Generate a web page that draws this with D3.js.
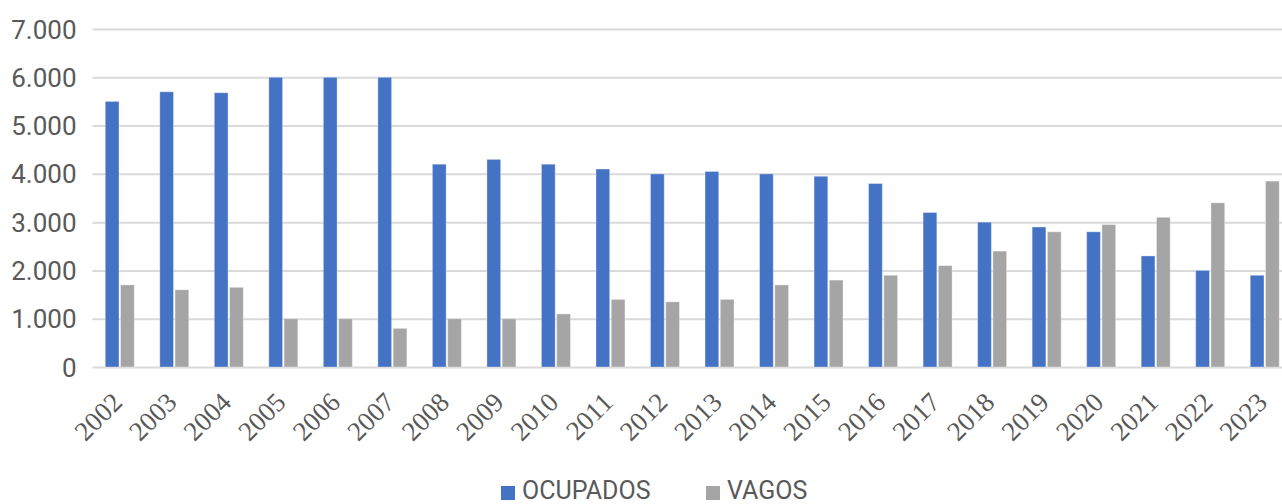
<!DOCTYPE html>
<meta charset="utf-8">
<head>
<title>Ocupados e vagos</title>
<script src="https://cdn.jsdelivr.net/npm/d3@7"></script>
<style>
  body { margin: 0; background: #fff; }
</style>
</head>
<body>
<div id="chart"></div>
<script>
  // data
  var years = ["2002","2003","2004","2005","2006","2007","2008","2009","2010","2011","2012",
               "2013","2014","2015","2016","2017","2018","2019","2020","2021","2022","2023"];
  var ocupados = [5500,5700,5680,6000,6000,6000,4200,4300,4200,4100,4000,
                  4050,4000,3950,3800,3200,3000,2900,2800,2300,2000,1900];
  var vagos = [1700,1600,1650,1000,1000,800,1000,1000,1100,1400,1350,
               1400,1700,1800,1900,2100,2400,2800,2950,3100,3400,3850];
  var seriesNames = ["OCUPADOS", "VAGOS"];
  var seriesColors = ["#4472C4", "#A5A5A5"];
  var yTicks = [0,1000,2000,3000,4000,5000,6000,7000];

  var width = 1282, height = 504;
  // the plot area runs a little past the right edge of the picture
  var margin = {top: 29, right: -10, bottom: 137, left: 92.5};

  var svg = d3.select("#chart").append("svg")
      .attr("width", width)
      .attr("height", height);

  var x = d3.scaleBand()
      .domain(years)
      .range([margin.left, width - margin.right]);

  var groupW = 29;
  var inner = d3.scaleBand()
      .domain(seriesNames)
      .range([0, groupW])
      .paddingInner(0.1);

  var y = d3.scaleLinear()
      .domain([0, 7000])
      .range([height - margin.bottom, margin.top]);

  var fmt = function(d) { return d3.format(",")(d).replace(/,/g, "."); };

  // gridlines + y labels
  var yAxis = svg.append("g")
      .attr("transform", "translate(" + margin.left + ",0)")
      .call(d3.axisLeft(y).tickValues(yTicks).tickFormat(fmt)
            .tickSize(-(width - margin.left - margin.right)).tickPadding(16));
  yAxis.select(".domain").remove();
  yAxis.selectAll("line").attr("stroke", "#D9D9D9").attr("stroke-width", 2);
  yAxis.selectAll("text")
      .attr("dy", "0.35em")
      .attr("font-family", "Roboto, sans-serif")
      .attr("font-size", 26)
      .attr("fill", "#595959");

  // bars
  var rows = years.map(function(yr, i) {
    return {year: yr, values: [ocupados[i], vagos[i]]};
  });

  var groups = svg.append("g").selectAll("g")
      .data(rows)
      .enter().append("g")
      .attr("transform", function(d) { return "translate(" + (x(d.year) + (x.bandwidth() - groupW) / 2) + ",0)"; });

  groups.selectAll("rect")
      .data(function(d) { return d.values.map(function(v, j) { return {name: seriesNames[j], v: v, c: seriesColors[j]}; }); })
      .enter().append("rect")
      .attr("x", function(d) { return inner(d.name); })
      .attr("width", inner.bandwidth())
      .attr("y", function(d) { return y(d.v); })
      .attr("height", function(d) { return y(0) - y(d.v); })
      .attr("fill", function(d) { return d.c; })
      .attr("stroke", "#ffffff")
      .attr("stroke-opacity", 0.35)
      .attr("stroke-width", 1);

  // x labels (serif, rotated), placed from the band scale
  svg.append("g").selectAll("text")
      .data(years)
      .enter().append("text")
      .style("font-family", "'Liberation Serif', 'Times New Roman', serif")
      .style("font-size", "27px")
      .style("fill", "#595959")
      .attr("text-anchor", "end")
      .attr("transform", function(d) {
        return "translate(" + (x(d) + x.bandwidth() / 2 + 4) + "," + (y(0) + 37) + ") rotate(-45)";
      })
      .text(function(d) { return d; });

  // legend
  var legend = svg.append("g");
  var legendX = [501, 706];
  seriesNames.forEach(function(name, i) {
    legend.append("rect")
        .attr("x", legendX[i]).attr("y", 486)
        .attr("width", 14).attr("height", 14)
        .attr("fill", seriesColors[i]);
    legend.append("text")
        .attr("x", legendX[i] + 21).attr("y", 499)
        .attr("font-family", "Roboto, sans-serif")
        .attr("font-size", 25)
        .attr("fill", "#595959")
        .text(name);
  });
</script>
</body>
</html>
